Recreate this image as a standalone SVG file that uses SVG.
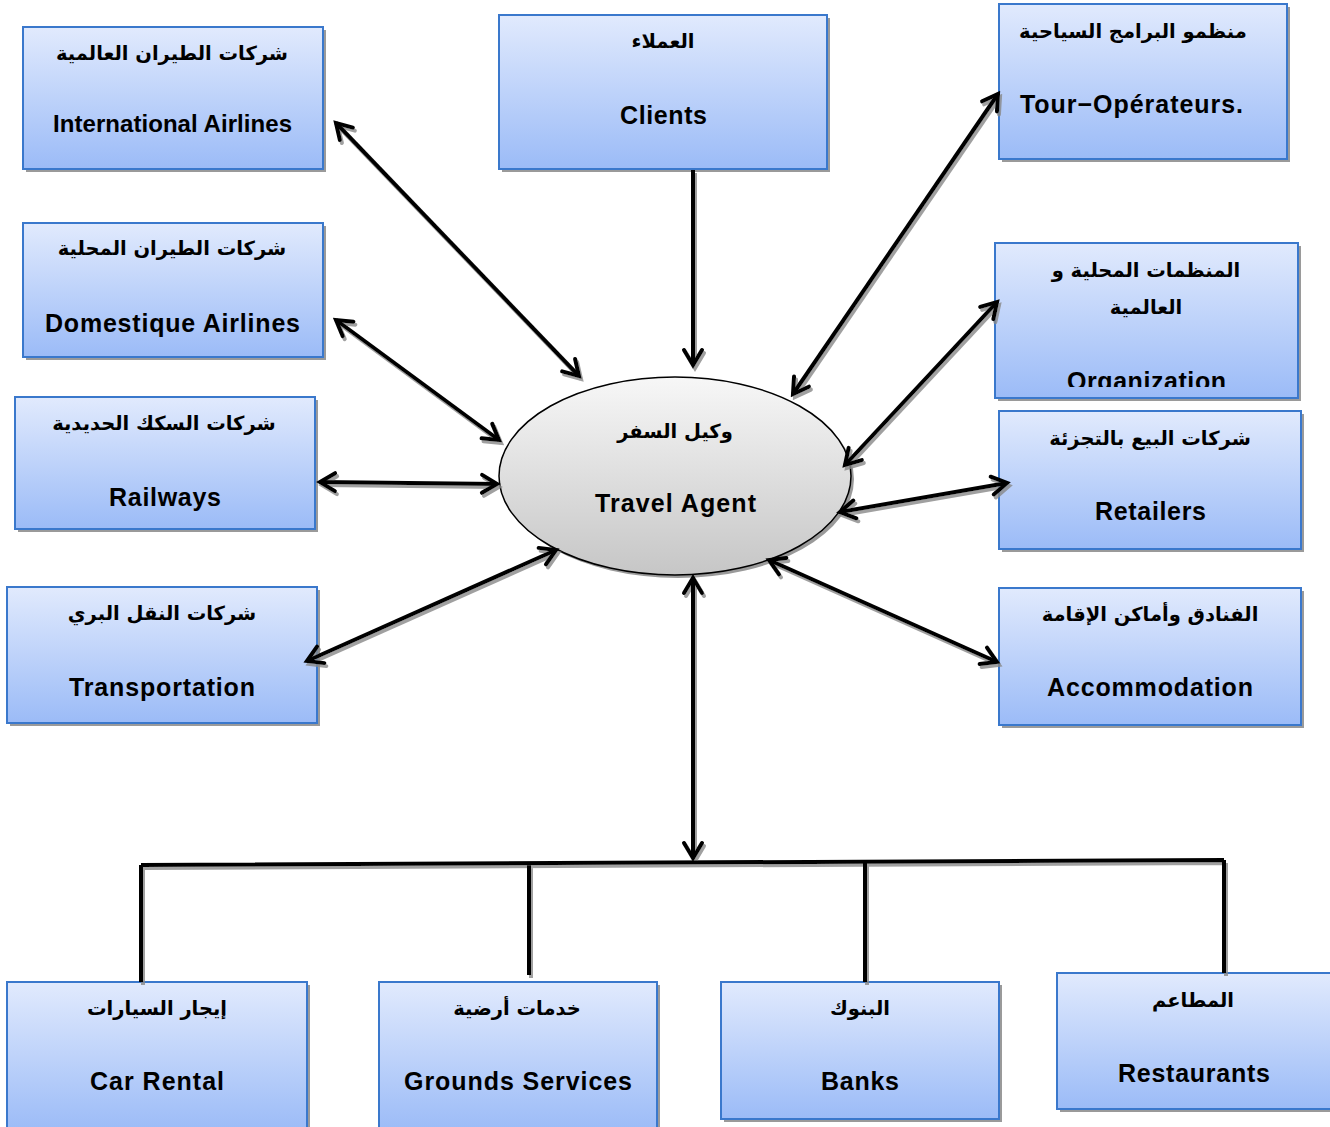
<svg xmlns="http://www.w3.org/2000/svg" width="1330" height="1127" viewBox="0 0 1330 1127">
<style>
.box{fill:url(#bg);stroke:#3a78cc;stroke-width:2}
.sh{fill:#9a9a9a}
.ar{font-family:"DejaVu Sans",sans-serif;font-weight:bold;font-size:19.5px;text-anchor:middle;fill:#000}
.en{font-family:"Liberation Sans",Arial,sans-serif;font-weight:bold;font-size:25px;text-anchor:middle;fill:#000}
.cn{fill:none;stroke:#000;stroke-width:4}
</style>
<defs>
<linearGradient id="bg" x1="0" y1="0" x2="0" y2="1">
<stop offset="0" stop-color="#e1eafd"/>
<stop offset="1" stop-color="#9bbbf7"/>
</linearGradient>
<linearGradient id="eg" x1="0" y1="0" x2="0" y2="1">
<stop offset="0" stop-color="#f7f7f7"/>
<stop offset="1" stop-color="#c6c6c6"/>
</linearGradient>
<marker id="ah" viewBox="0 0 24 24" markerWidth="24" markerHeight="24" refX="20" refY="12" markerUnits="userSpaceOnUse" orient="auto-start-reverse">
<path d="M5,3 L20,12 L5,21" fill="none" stroke="#000" stroke-width="4" stroke-linejoin="miter" stroke-linecap="round"/>
</marker>
<filter id="ds" x="-10%" y="-10%" width="130%" height="130%">
<feDropShadow dx="2" dy="3" stdDeviation="0.6" flood-color="#888" flood-opacity="0.8"/>
</filter>
<clipPath id="orgclip"><rect x="995" y="243" width="303" height="144"/></clipPath>
</defs>
<rect width="1330" height="1127" fill="#fff"/>

<g id="travel-agent">
<ellipse cx="678" cy="479" rx="176" ry="99" fill="#9a9a9a"/>
<ellipse cx="675" cy="476" rx="176" ry="99" fill="url(#eg)" stroke="#000" stroke-width="1.5"/>
<text class="ar" x="675" y="438" direction="rtl">وكيل السفر</text>
<text class="en" x="675.5" y="512" textLength="161" lengthAdjust="spacing">Travel Agent</text>
</g>

<g id="international-airlines">
<rect class="sh" x="26" y="30" width="300" height="142"/>
<rect class="box" x="23" y="27" width="300" height="142"/>
<text class="ar" x="172" y="60" direction="rtl">شركات الطيران العالمية</text>
<text class="en" x="172.5" y="132" style="font-size:24px" textLength="239" lengthAdjust="spacing">International Airlines</text>
</g>

<g id="clients">
<rect class="sh" x="502" y="18" width="328" height="154"/>
<rect class="box" x="499" y="15" width="328" height="154"/>
<text class="ar" x="663" y="48" direction="rtl">العملاء</text>
<text class="en" x="663.5" y="124" textLength="87" lengthAdjust="spacing">Clients</text>
</g>

<g id="tour-operateurs">
<rect class="sh" x="1002" y="7" width="288" height="155"/>
<rect class="box" x="999" y="4" width="288" height="155"/>
<text class="ar" x="1133" y="38" direction="rtl">منظمو البرامج السياحية</text>
<text class="en" x="1020" y="113" style="text-anchor:start" textLength="223" lengthAdjust="spacing">Tour−Opérateurs.</text>
</g>

<g id="domestique-airlines">
<rect class="sh" x="26" y="226" width="300" height="134"/>
<rect class="box" x="23" y="223" width="300" height="134"/>
<text class="ar" x="172" y="255" direction="rtl">شركات الطيران المحلية</text>
<text class="en" x="172.5" y="332" textLength="255" lengthAdjust="spacing">Domestique Airlines</text>
</g>

<g id="organization">
<rect class="sh" x="998" y="246" width="303" height="155"/>
<rect class="box" x="995" y="243" width="303" height="155"/>
<text class="ar" x="1146" y="277" direction="rtl">المنظمات المحلية و</text>
<text class="ar" x="1146" y="314" direction="rtl">العالمية</text>
<text class="en" x="1146.5" y="390" clip-path="url(#orgclip)" textLength="159" lengthAdjust="spacing">Organization</text>
</g>

<g id="railways">
<rect class="sh" x="18" y="400" width="300" height="132"/>
<rect class="box" x="15" y="397" width="300" height="132"/>
<text class="ar" x="164" y="430" direction="rtl">شركات السكك الحديدية</text>
<text class="en" x="165" y="506" textLength="112" lengthAdjust="spacing">Railways</text>
</g>

<g id="retailers">
<rect class="sh" x="1002" y="414" width="302" height="138"/>
<rect class="box" x="999" y="411" width="302" height="138"/>
<text class="ar" x="1150" y="445" direction="rtl">شركات البيع بالتجزئة</text>
<text class="en" x="1150.5" y="520" textLength="111" lengthAdjust="spacing">Retailers</text>
</g>

<g id="transportation">
<rect class="sh" x="10" y="590" width="310" height="136"/>
<rect class="box" x="7" y="587" width="310" height="136"/>
<text class="ar" x="162" y="620" direction="rtl">شركات النقل البري</text>
<text class="en" x="162" y="696" textLength="186" lengthAdjust="spacing">Transportation</text>
</g>

<g id="accommodation">
<rect class="sh" x="1002" y="591" width="302" height="137"/>
<rect class="box" x="999" y="588" width="302" height="137"/>
<text class="ar" x="1150" y="621" direction="rtl">الفنادق وأماكن الإقامة</text>
<text class="en" x="1150" y="696" textLength="206" lengthAdjust="spacing">Accommodation</text>
</g>

<g id="car-rental">
<rect class="sh" x="10" y="985" width="300" height="150"/>
<rect class="box" x="7" y="982" width="300" height="150"/>
<text class="ar" x="157" y="1015" direction="rtl">إيجار السيارات</text>
<text class="en" x="157" y="1090" textLength="134" lengthAdjust="spacing">Car Rental</text>
</g>

<g id="grounds-services">
<rect class="sh" x="382" y="985" width="278" height="150"/>
<rect class="box" x="379" y="982" width="278" height="150"/>
<text class="ar" x="517" y="1015" direction="rtl">خدمات أرضية</text>
<text class="en" x="518" y="1090" textLength="228" lengthAdjust="spacing">Grounds Services</text>
</g>

<g id="banks">
<rect class="sh" x="724" y="985" width="278" height="137"/>
<rect class="box" x="721" y="982" width="278" height="137"/>
<text class="ar" x="860" y="1015" direction="rtl">البنوك</text>
<text class="en" x="860" y="1090" textLength="78" lengthAdjust="spacing">Banks</text>
</g>

<g id="restaurants">
<rect class="sh" x="1060" y="976" width="280" height="136"/>
<rect class="box" x="1057" y="973" width="280" height="136"/>
<text class="ar" x="1193" y="1007" direction="rtl">المطاعم</text>
<text class="en" x="1194" y="1082" textLength="152" lengthAdjust="spacing">Restaurants</text>
</g>

<g id="connectors" filter="url(#ds)">
<line class="cn" x1="336" y1="123" x2="579" y2="376" marker-start="url(#ah)" marker-end="url(#ah)"/>
<line class="cn" x1="336" y1="320" x2="499" y2="440" marker-start="url(#ah)" marker-end="url(#ah)"/>
<line class="cn" x1="320" y1="482" x2="497" y2="484" marker-start="url(#ah)" marker-end="url(#ah)"/>
<line class="cn" x1="307" y1="661" x2="556" y2="550" marker-start="url(#ah)" marker-end="url(#ah)"/>
<line class="cn" x1="693" y1="170" x2="693" y2="365" marker-end="url(#ah)"/>
<line class="cn" x1="998" y1="94" x2="793" y2="394" marker-start="url(#ah)" marker-end="url(#ah)"/>
<line class="cn" x1="997" y1="302" x2="845" y2="465" marker-start="url(#ah)" marker-end="url(#ah)"/>
<line class="cn" x1="840" y1="512" x2="1007" y2="483" marker-start="url(#ah)" marker-end="url(#ah)"/>
<line class="cn" x1="769" y1="560" x2="997" y2="662" marker-start="url(#ah)" marker-end="url(#ah)"/>
<line class="cn" x1="693" y1="578" x2="693" y2="858" marker-start="url(#ah)" marker-end="url(#ah)"/>
<path class="cn" d="M141,865 L1224,860 M141,865 V982 M529,864 V975 M865,863 V982 M1224,860 V973"/>
</g>
</svg>
